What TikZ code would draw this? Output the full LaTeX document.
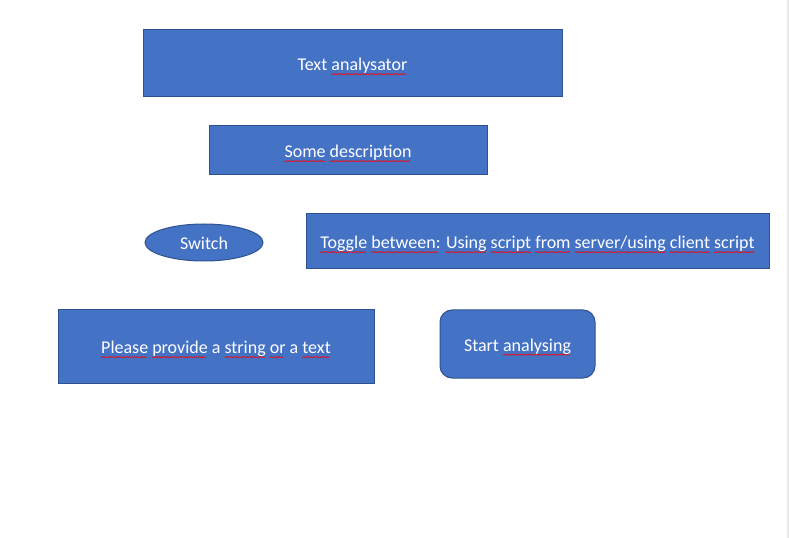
\documentclass[tikz,border=0pt]{standalone}
\usepackage{fontspec}
\setmainfont{Carlito}
\usetikzlibrary{shapes.geometric}
\definecolor{boxfill}{HTML}{4472C4}
\definecolor{boxline}{HTML}{2F528F}
\newsavebox{\squigbox}
\newcommand{\squig}[1]{\sbox{\squigbox}{#1}%
	\rlap{\lower3pt\hbox to\wd\squigbox{\leaders\hbox{\tikz[x=1pt,y=1pt,sharp corners]{\useasboundingbox (0,0) rectangle (2,1);
		\draw[red,line width=0.4pt] (0,0)--(1,1)--(2,0);}}\hfill}}#1}
\begin{document}
\begin{tikzpicture}[x=0.75pt,y=-0.75pt,
	every node/.style={fill=boxfill,draw=boxline,line width=0.75pt,inner sep=0pt,
		text=white,text height=13pt,text depth=2pt,font=\fontsize{13.5}{16}\selectfont},
	boxsize/.style 2 args={minimum width=#1*0.75pt,minimum height=#2*0.75pt},
	box/.style={rectangle},
	roundbox/.style={rectangle,rounded corners=9pt},
	oval/.style={ellipse}]
	\useasboundingbox (0,0) rectangle (789,538);
	\fill[gray!18] (787,0) rectangle (789,538);
	\node[box,boxsize={419}{67}] (title) at (352.5,63.5){Text \squig{analysator}};
	\node[box,boxsize={278}{49}] (descr) at (348,150.5){\squig{Some} \squig{description}};
	\node[oval,boxsize={118}{37}] (switch) at (204,242.5){Switch};
	\node[box,boxsize={463}{55}] (toggle) at (537.5,241.5){\squig{Toggle} \squig{between:} \squig{Using} \squig{script} \squig{from} \squig{server/using} \squig{client} \squig{script}};
	\node[box,boxsize={316}{73}] (input) at (216,346.5){\squig{Please} \squig{provide} a \squig{string} \squig{or} a \squig{text}};
	\node[roundbox,boxsize={155}{68}] (start) at (517.5,344){Start \squig{analysing}};
\end{tikzpicture}
\end{document}
